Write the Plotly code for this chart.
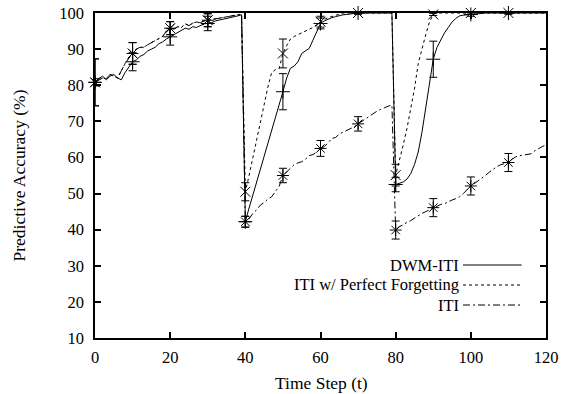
import numpy as np
import plotly.graph_objects as go

# ---------------- data ----------------
t = list(range(0, 121))

first_iti = [80.8, 81.5, 82.0, 81.8, 83.0, 82.5, 82.0, 84.0, 86.0, 87.5,
             88.8, 90.0, 90.5, 90.5, 91.2, 91.8, 92.5, 93.0, 93.5, 95.0,
             95.8, 95.5, 96.2, 96.0, 97.0, 96.5, 97.2, 97.5, 97.3, 97.8,
             98.0, 98.2, 98.5, 98.5, 98.8, 99.0, 99.1, 99.3, 99.5, 99.6]

first_dwm = [80.8, 81.8, 82.5, 81.5, 82.5, 83.0, 82.0, 81.5, 83.5, 85.0,
             86.5, 87.0, 88.0, 88.5, 89.5, 90.0, 90.5, 91.5, 92.0, 92.8,
             93.4, 94.0, 94.5, 95.0, 95.8, 95.5, 96.2, 96.0, 96.5, 97.0,
             97.1, 97.3, 97.8, 98.0, 98.3, 98.5, 98.8, 99.0, 99.2, 99.5]

iti = first_iti + [
    42.2, 43.0, 44.5, 45.5, 46.8, 47.5, 48.5, 49.1, 50.5, 52.0,
    55.0, 56.0, 57.2, 58.0, 58.5, 58.8, 59.5, 60.5, 60.8, 61.5,
    62.5, 63.0, 64.0, 65.3, 65.5, 66.5, 67.0, 67.5, 68.0, 68.5,
    69.3, 70.0, 70.8, 71.5, 72.0, 72.8, 73.3, 73.8, 74.2, 74.5,
    39.9, 40.8, 41.5, 42.0, 42.5, 43.2, 44.0, 44.5, 45.0, 45.5,
    46.1, 46.5, 47.0, 47.2, 47.8, 48.2, 48.6, 49.1, 50.0, 51.0,
    52.1, 52.8, 53.5, 54.2, 55.1, 56.0, 56.8, 57.5, 58.0, 58.3,
    58.6, 59.5, 60.2, 60.5, 60.6, 60.8, 61.0, 61.8, 62.5, 63.0,
    63.5]

pf = first_iti + [
    50.5, 55.0, 59.8, 65.0, 70.0, 75.0, 79.5, 83.5, 84.3, 84.6,
    88.8, 91.0, 92.8, 93.5, 94.0, 94.4, 94.8, 95.5, 96.0, 96.8,
    97.6, 98.2, 98.7, 99.0, 99.5, 99.8, 100, 100, 100, 100,
    100, 100, 100, 100, 100, 100, 100, 100, 100, 100,
    55.1, 59.0, 63.4, 68.0, 73.5, 79.0, 86.0, 90.2, 94.0, 97.5,
    99.6, 100, 100, 100, 100, 100, 100, 100, 100, 100,
    100, 100, 100, 100, 100, 100, 100, 100, 100, 100,
    100, 100, 100, 100, 100, 100, 100, 100, 100, 100,
    100]

dwm = first_dwm + [
    42.2, 46.0, 49.5, 53.0, 56.5, 60.0, 64.0, 67.1, 71.0, 74.5,
    78.2, 82.0, 84.7, 85.3, 86.5, 88.8, 89.5, 90.2, 92.5, 95.0,
    97.1, 97.8, 98.3, 98.7, 99.0, 99.3, 99.5, 99.6, 99.8, 99.9,
    100, 100, 100, 100, 100, 100, 100, 100, 100, 100,
    52.5, 52.8, 53.2, 54.0, 55.5, 58.0, 61.5, 67.0, 74.0, 81.0,
    87.2, 90.5, 92.5, 94.5, 96.0, 97.5, 98.5, 99.2, 99.4, 99.5,
    99.6, 99.8, 100, 100, 100, 100, 100, 100, 100, 100,
    100, 100, 100, 100, 100, 100, 100, 100, 100, 100,
    100]

# error bars at every 10th step (t = 0, 10, ..., 110)
mark_t = t[0:120:10]
err_dwm = [1.0, 2.5, 2.3, 2.0, 1.5, 5.0, 1.5, 0.3, 2.0, 5.0, 0.5, 0.3]
err_pf = [6.5, 3.0, 1.8, 1.8, 2.5, 4.0, 1.5, 0.3, 3.0, 0.3, 0.3, 0.3]
err_iti = [6.5, 3.0, 1.8, 1.8, 1.5, 2.0, 2.2, 2.0, 2.5, 2.5, 2.5, 2.5]

series_names = ["DWM-ITI", "ITI w/ Perfect Forgetting", "ITI"]
x_ticks = [0, 20, 40, 60, 80, 100, 120]
y_ticks = [10, 20, 30, 40, 50, 60, 70, 80, 90, 100]
x_title = "Time Step (t)"
y_title = "Predictive Accuracy (%)"

# ---------------- figure ----------------
FONT = "Liberation Serif, Times New Roman, serif"
fig = go.Figure()

specs = [
    (series_names[0], dwm, err_dwm, "solid", "cross-thin-open"),
    (series_names[1], pf, err_pf, "3px,3px", "x-thin-open"),
    (series_names[2], iti, err_iti, "7px,3px,2px,3px", "asterisk-open"),
]

for name, vals, errs, dash, sym in specs:
    fig.add_trace(go.Scatter(
        x=t, y=vals, mode="lines", name=name, showlegend=False,
        line=dict(color="black", width=1, dash=dash)))
    fig.add_trace(go.Scatter(
        x=mark_t, y=[vals[i] for i in mark_t], mode="markers",
        showlegend=False, cliponaxis=False,
        marker=dict(symbol=sym, size=10, color="black",
                    line=dict(color="black", width=1)),
        error_y=dict(type="data", array=errs, visible=True,
                     color="black", thickness=1, width=4)))

# legend (text on the left, line sample on the right, as in the reference)
leg_y = [0.2246, 0.1631, 0.1015]
for (name, vals, errs, dash, sym), yy in zip(specs, leg_y):
    fig.add_annotation(xref="paper", yref="paper", x=0.81, y=yy,
                       text=name, showarrow=False, xanchor="right",
                       yanchor="middle", borderpad=0,
                       font=dict(family=FONT, size=16.5, color="black"))
    fig.add_shape(type="line", xref="paper", yref="paper",
                  x0=0.816, x1=0.946, y0=yy, y1=yy,
                  line=dict(color="black", width=1, dash=dash))

# axis titles
fig.add_annotation(xref="paper", yref="paper", x=0.503, y=-0.138,
                   text=x_title, showarrow=False, xanchor="center",
                   yanchor="middle",
                   font=dict(family=FONT, size=17.5, color="black"))
fig.add_annotation(xref="paper", yref="paper", x=-0.1707, y=0.50,
                   text=y_title, showarrow=False, xanchor="center",
                   yanchor="middle", textangle=-90,
                   font=dict(family=FONT, size=17.5, color="black"))

axis_common = dict(
    showgrid=False, zeroline=False, showline=True, linecolor="black",
    linewidth=1.5, mirror="ticks", ticks="inside", ticklen=6,
    tickwidth=1.5, tickcolor="black", automargin=False,
    tickfont=dict(family=FONT, size=16.5, color="black"))

fig.update_xaxes(range=[0, 120], tickvals=x_ticks, ticklabelstandoff=3,
                 **axis_common)
fig.update_yaxes(range=[10, 100], tickvals=y_ticks, ticklabelstandoff=6,
                 **axis_common)

fig.update_layout(
    width=565, height=394,
    margin=dict(l=95, r=19, t=13, b=56),
    plot_bgcolor="white", paper_bgcolor="white",
    font=dict(family=FONT, size=16, color="black"),
    showlegend=False)

fig.write_html("out.html")
